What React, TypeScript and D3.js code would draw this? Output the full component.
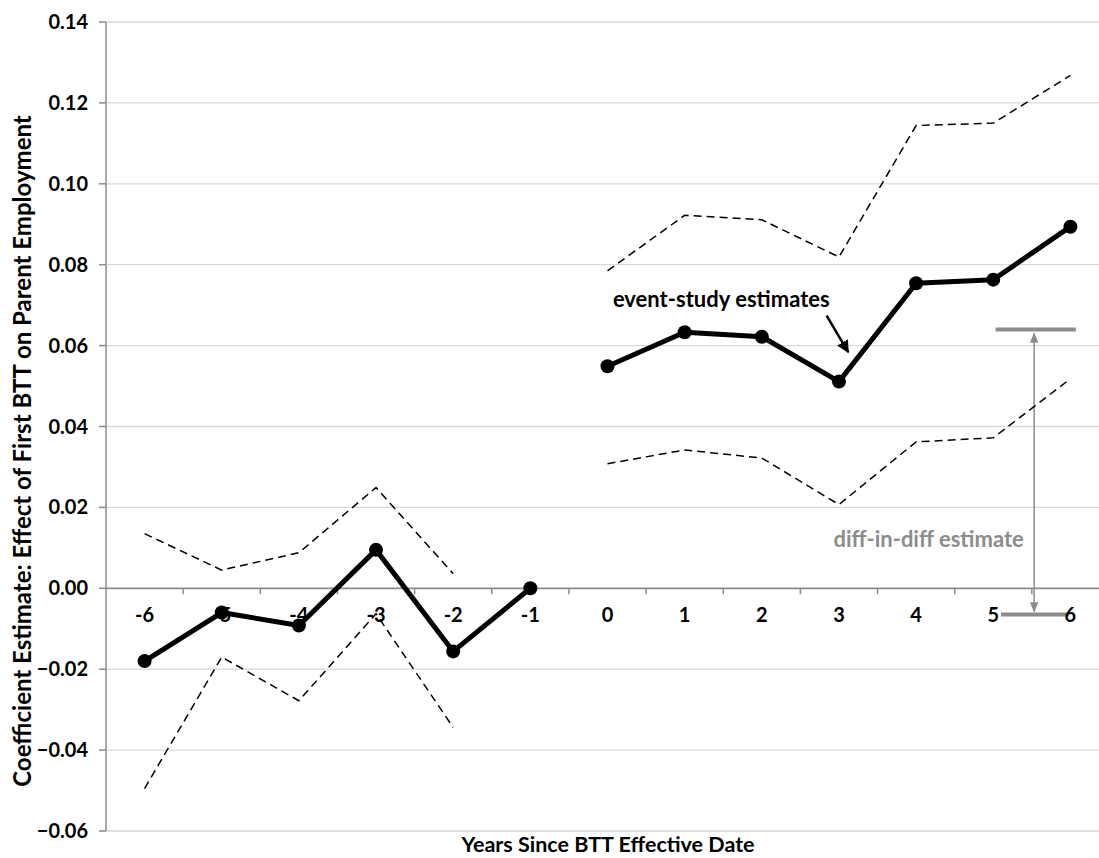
import React from "react";
import * as d3 from "d3";

// ---- Data ----
const years = [-6, -5, -4, -3, -2, -1, 0, 1, 2, 3, 4, 5, 6];
const yTicks = [-0.06, -0.04, -0.02, 0.0, 0.02, 0.04, 0.06, 0.08, 0.1, 0.12, 0.14];

const preYears = [-6, -5, -4, -3, -2, -1];
const preEstimate = [-0.018, -0.006, -0.0092, 0.0095, -0.0156, 0.0];
const preCIYears = [-6, -5, -4, -3, -2];
const preUpper = [0.0135, 0.0045, 0.0088, 0.0249, 0.0036];
const preLower = [-0.0495, -0.017, -0.0278, -0.0063, -0.0344];

const postYears = [0, 1, 2, 3, 4, 5, 6];
const postEstimate = [0.0549, 0.0633, 0.0622, 0.0511, 0.0754, 0.0763, 0.0894];
const postUpper = [0.0785, 0.0922, 0.0911, 0.0819, 0.1144, 0.115, 0.1268];
const postLower = [0.0308, 0.0342, 0.0322, 0.0207, 0.0362, 0.0372, 0.0518];

// annotation anchors (years / coefficient units)
const didTop = 0.064;
const didBottom = -0.0065;

const W = 1099;
const H = 858;
const FONT = "Lato, 'Open Sans', sans-serif";

export default function App() {
  const x = d3.scaleLinear().domain([-6.5, 6.5]).range([106, 1109]);
  const y = d3.scaleLinear().domain([-0.06, 0.14]).range([831, 22]);

  const line = d3
    .line<[number, number]>()
    .x((d) => x(d[0]))
    .y((d) => y(d[1]));

  const zip = (a: number[], b: number[]) => a.map((v, i) => [v, b[i]] as [number, number]);

  const boundaries = d3.range(-5.5, 6.6, 1);
  const grey = "#8c8c8c";

  return (
    <div style={{ position: "fixed", left: 0, top: 0 }}>
      <svg width={W} height={H} style={{ display: "block", background: "#fff" }} fontFamily={FONT}>
        <defs>
          <marker id="arrBlack" viewBox="0 0 10 10" refX="9" refY="5" markerWidth="5" markerHeight="5" orient="auto">
            <path d="M0,0 L10,5 L0,10 z" fill="#000" />
          </marker>
          <marker id="arrGrey" viewBox="0 0 10 10" refX="9" refY="5" markerWidth="7" markerHeight="7" orient="auto-start-reverse">
            <path d="M0,1 L10,5 L0,9 z" fill={grey} />
          </marker>
        </defs>

        {/* gridlines */}
        {yTicks.map((t) =>
          t === 0 ? null : (
            <line key={"g" + t} x1={106} x2={1109} y1={y(t)} y2={y(t)} stroke="#d9d9d9" strokeWidth={1.3} />
          )
        )}

        {/* y axis */}
        <line x1={106} x2={106} y1={y(0.14)} y2={y(-0.06)} stroke={grey} strokeWidth={1.5} />
        {yTicks.map((t) => (
          <g key={"yt" + t}>
            <line x1={99} x2={106} y1={y(t)} y2={y(t)} stroke={grey} strokeWidth={1.5} />
            <text x={88} y={y(t)} dy="0.35em" textAnchor="end" fontSize={20} fontWeight="bold" fill="#000">
              {d3.format(".2f")(t)}
            </text>
          </g>
        ))}

        {/* x axis at zero */}
        <line x1={106} x2={1109} y1={y(0)} y2={y(0)} stroke={grey} strokeWidth={1.8} />
        {boundaries.map((b) => (
          <line key={"xt" + b} x1={x(b)} x2={x(b)} y1={y(0)} y2={y(0) + 6} stroke={grey} strokeWidth={1.5} />
        ))}

        {/* diff-in-diff bars (under labels) */}
        <line x1={x(5.03)} x2={x(6.07)} y1={y(didTop)} y2={y(didTop)} stroke={grey} strokeWidth={4} />
        <line x1={x(5.1)} x2={x(5.98)} y1={y(didBottom)} y2={y(didBottom)} stroke={grey} strokeWidth={4} />
        <line
          x1={x(5.53)}
          x2={x(5.53)}
          y1={y(didTop) + 4}
          y2={y(didBottom) - 3}
          stroke={grey}
          strokeWidth={1.5}
          markerStart="url(#arrGrey)"
          markerEnd="url(#arrGrey)"
        />

        {/* x labels */}
        {years.map((yr) => (
          <text key={"xl" + yr} x={x(yr)} y={622} textAnchor="middle" fontSize={20} fontWeight="bold" fill="#000">
            {yr}
          </text>
        ))}

        {/* confidence intervals */}
        {[zip(preCIYears, preUpper), zip(preCIYears, preLower), zip(postYears, postUpper), zip(postYears, postLower)].map(
          (pts, i) => (
            <path key={"ci" + i} d={line(pts) || ""} fill="none" stroke="#000" strokeWidth={1.5} strokeDasharray="8,5" />
          )
        )}

        {/* estimates */}
        {[zip(preYears, preEstimate), zip(postYears, postEstimate)].map((pts, i) => (
          <g key={"est" + i}>
            <path d={line(pts) || ""} fill="none" stroke="#000" strokeWidth={5} strokeLinejoin="round" />
            {pts.map((p, j) => (
              <circle key={j} cx={x(p[0])} cy={y(p[1])} r={7} fill="#000" />
            ))}
          </g>
        ))}

        {/* annotations */}
        <text x={x(0.07)} y={y(0.0695)} fontSize={22} fontWeight="bold" fill="#000">
          event-study estimates
        </text>
        <line
          x1={x(2.84)}
          y1={y(0.0674)}
          x2={x(3.12)}
          y2={y(0.0584)}
          stroke="#000"
          strokeWidth={2.5}
          markerEnd="url(#arrBlack)"
        />
        <text x={x(2.93)} y={y(0.0101)} fontSize={22} fontWeight="bold" fill={grey}>
          diff-in-diff estimate
        </text>

        {/* axis titles */}
        <text x={608} y={852} textAnchor="middle" fontSize={21.5} fontWeight="bold" fill="#000">
          Years Since BTT Effective Date
        </text>
        <text
          transform={`translate(31, 451) rotate(-90)`}
          textAnchor="middle"
          fontSize={24}
          fontWeight="bold"
          fill="#000"
        >
          Coefficient Estimate: Effect of First BTT on Parent Employment
        </text>
      </svg>
    </div>
  );
}
